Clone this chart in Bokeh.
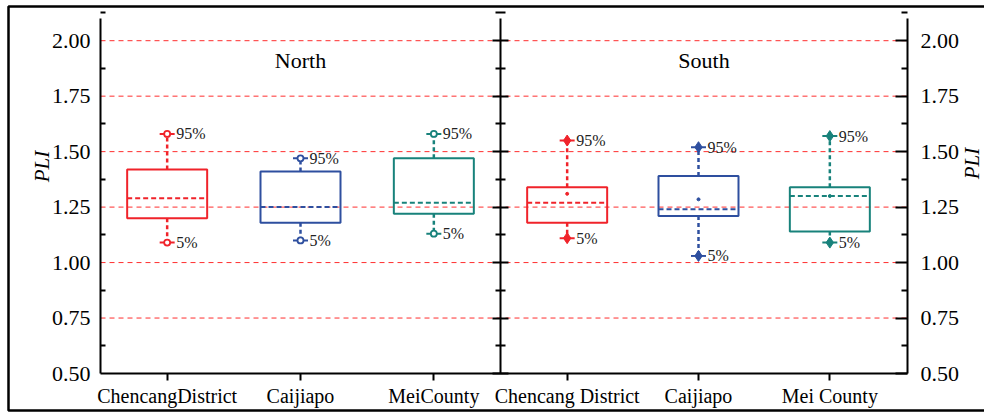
import numpy as np
from bokeh.plotting import figure
from bokeh.models import (Range1d, LinearAxis, FixedTicker, Label, ColumnDataSource)
from bokeh.core.properties import value
from bokeh.embed import file_html
from bokeh.resources import INLINE

# Sampling sites in each region
north_sites = ["ChencangDistrict", "Caijiapo", "MeiCounty"]
south_sites = ["Chencang District", "Caijiapo", "Mei County"]

# PLI box statistics, North
north_p5 = [1.09, 1.10, 1.13]
north_q1 = [1.20, 1.18, 1.22]
north_median = [1.29, 1.25, 1.27]
north_q3 = [1.42, 1.41, 1.47]
north_p95 = [1.58, 1.47, 1.58]

# PLI box statistics, South
south_p5 = [1.11, 1.03, 1.09]
south_q1 = [1.18, 1.21, 1.14]
south_median = [1.27, 1.24, 1.30]
south_q3 = [1.34, 1.39, 1.34]
south_p95 = [1.55, 1.52, 1.57]
south_mean = [1.31, 1.285, 1.30]

y_major = [0.5, 0.75, 1.0, 1.25, 1.5, 1.75, 2.0]
y_minor = [0.625, 0.875, 1.125, 1.375, 1.625, 1.875, 2.125]
grid_levels = [0.75, 1.0, 1.25, 1.5, 1.75, 2.0]

site_colors = ["#f0232a", "#2e4f9f", "#18827b"]
GRID_RED = "#ff2e2e"
FONT = "Liberation Serif"

# ---- layout -------------------------------------------------------------
W, H = 984, 416
PX_X = 400 / 3.0            # pixels per x unit (one site slot)
PX_Y = 355 / 1.6            # pixels per PLI unit
AX_LEFT, AX_BOTTOM = 100, 373   # canvas pixel of x=0 and y=0.5

X_END = 6.053               # right edge of the South panel
Y_LO, Y_HI = 0.5, 2.1       # extent of the value axes

north_x = [0.5 + i for i in range(3)]
south_x = [3.5 + 0.985 * i for i in range(3)]
BOX_W = 0.6


def cx(px):
    """canvas pixel column -> x data"""
    return (px - AX_LEFT) / PX_X


def cy(py):
    """canvas pixel row -> y data"""
    return Y_LO + (AX_BOTTOM - py) / PX_Y


# the plotting frame covers the whole canvas; axes sit at fixed data locations
p = figure(width=W, height=H, output_backend="svg", toolbar_location=None,
           x_range=Range1d(cx(0), cx(W)), y_range=Range1d(cy(H), cy(0)),
           min_border=0, min_border_left=0, min_border_right=0,
           min_border_top=0, min_border_bottom=0)
p.outline_line_color = None
p.background_fill_color = "white"
p.border_fill_color = "white"
p.xgrid.visible = False
p.ygrid.visible = False

# dashed horizontal reference lines across both panels
p.segment(x0=[0] * len(grid_levels), y0=grid_levels,
          x1=[X_END] * len(grid_levels), y1=grid_levels,
          line_color=GRID_RED, line_width=1, line_dash="5 4")


def style_y_axis(ax, loc):
    ax.fixed_location = loc
    ax.bounds = (Y_LO, Y_HI)
    ax.ticker = FixedTicker(ticks=y_major, minor_ticks=y_minor)
    ax.major_label_overrides = {v: f"{v:.2f}" for v in y_major}
    ax.axis_line_width = 2
    ax.major_tick_line_width = 2
    ax.minor_tick_line_width = 2
    ax.major_tick_out = 0
    ax.minor_tick_out = 0
    ax.major_label_text_font = FONT
    ax.major_label_text_font_size = "22px"
    ax.major_label_text_color = "black"


# left value axis
ly = p.yaxis[0]
style_y_axis(ly, 0.0)
ly.major_tick_in = 0
ly.minor_tick_in = 5
ly.major_label_standoff = 10

# right value axis
ry = LinearAxis()
style_y_axis(ry, X_END)
ry.major_tick_in = 12
ry.minor_tick_in = 6
ry.major_label_standoff = 13
p.add_layout(ry, "right")

# divider between the regions, ticks crossing it
my = LinearAxis()
style_y_axis(my, 3.0)
my.major_label_overrides = {v: "" for v in y_major}
my.major_tick_in = 8
my.major_tick_out = 8
my.minor_tick_in = 5
my.minor_tick_out = 5
p.add_layout(my, "left")

# site axis along the bottom
bx = p.xaxis[0]
all_x = north_x + south_x
all_sites = north_sites + south_sites
bx.fixed_location = Y_LO
bx.bounds = (0, X_END)
bx.ticker = FixedTicker(ticks=all_x, minor_ticks=[])
bx.major_label_overrides = {x: s for x, s in zip(all_x, all_sites)}
bx.major_tick_in = 0
bx.major_tick_out = 7
bx.major_tick_line_width = 2
bx.axis_line_width = 2
bx.major_label_standoff = 4
bx.major_label_text_font = FONT
bx.major_label_text_font_size = "20px"
bx.major_label_text_color = "black"


def draw_panel(xs, p5, q1, med, q3, p95, end_marker, mean=None):
    src = ColumnDataSource(dict(x=xs, p5=p5, q1=q1, med=med, q3=q3, p95=p95,
                                c=site_colors,
                                x0=[x - BOX_W / 2 for x in xs],
                                x1=[x + BOX_W / 2 for x in xs]))
    # whiskers
    p.segment(x0="x", y0="q3", x1="x", y1="p95", source=src, line_color="c",
              line_width=2.5, line_dash="4 3")
    p.segment(x0="x", y0="q1", x1="x", y1="p5", source=src, line_color="c",
              line_width=2.5, line_dash="4 3")
    # boxes
    p.vbar(x="x", width=BOX_W, bottom="q1", top="q3", source=src,
           fill_color=None, line_color="c", line_width=2)
    # median line
    p.segment(x0="x0", y0="med", x1="x1", y1="med", source=src, line_color="c",
              line_width=2, line_dash="5 3")
    # percentile end caps and markers
    for col in ("p95", "p5"):
        p.scatter(x="x", y=col, source=src, marker="dash", size=15,
                  line_color="c", line_width=2)
        if end_marker == "circle":
            p.scatter(x="x", y=col, source=src, marker="circle", size=6,
                      fill_color="white", line_color="c", line_width=1.8)
        else:
            p.scatter(x="x", y=col, source=src, marker="diamond", size=11,
                      fill_color="c", line_color="c", line_width=1)
    if mean is not None:
        p.scatter(x=xs, y=mean, marker="circle", size=3, color=site_colors)
    # percentile labels
    p.text(x=xs, y=p95, text=["95%"] * 3, x_offset=9, text_baseline="middle",
           text_font=value(FONT), text_font_size="16px", text_color="#222222")
    p.text(x=xs, y=p5, text=["5%"] * 3, x_offset=9, text_baseline="middle",
           text_font=value(FONT), text_font_size="16px", text_color="#222222")


draw_panel(north_x, north_p5, north_q1, north_median, north_q3, north_p95, "circle")
draw_panel(south_x, south_p5, south_q1, south_median, south_q3, south_p95, "diamond",
           mean=south_mean)

# region titles
for tx, name in ((1.5, "North"), (3 + (X_END - 3) / 2, "South")):
    p.add_layout(Label(x=tx, y=cy(60), text=name, text_align="center",
                       text_baseline="middle", text_font=FONT,
                       text_font_size="22px", text_color="black"))

# PLI titles beside both value axes
for lx, lyv in ((cx(41), cy(166)), (cx(971), cy(163))):
    p.add_layout(Label(x=lx, y=lyv, text="PLI", angle=np.pi / 2,
                       text_align="center", text_baseline="middle",
                       text_font=FONT, text_font_style="italic",
                       text_font_size="21px", text_color="black"))

# outer frame (its right side runs past the canvas edge)
p.quad(left=[cx(8)], right=[cx(996)], bottom=[cy(410)], top=[cy(6)],
       fill_color=None, line_color="black", line_width=2.5)

open("out.html", "w").write(file_html(p, INLINE))
